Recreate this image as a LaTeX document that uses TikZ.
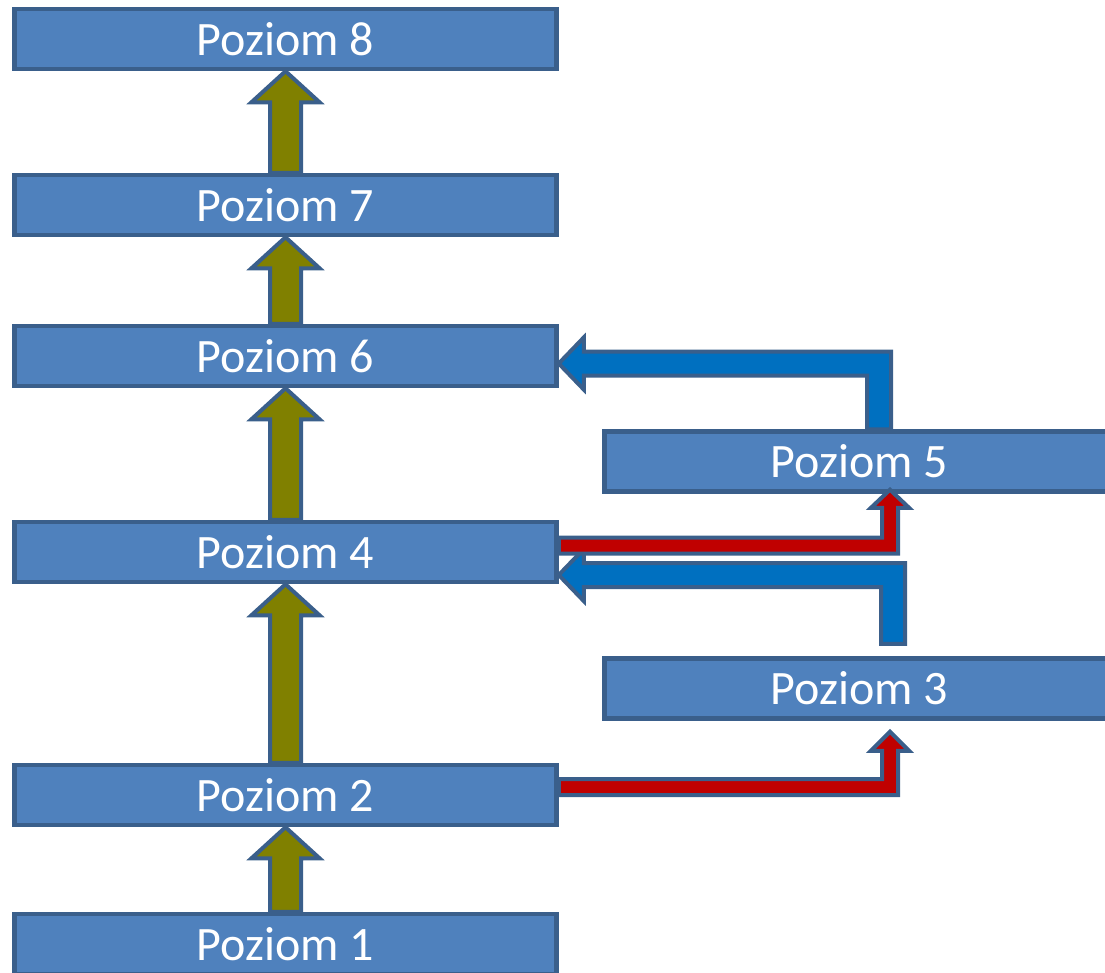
\documentclass[tikz,border=0pt]{standalone}
\usepackage{fontspec}
\setmainfont{Carlito}
\usetikzlibrary{calc}
\definecolor{boxblue}{HTML}{4F81BD}
\definecolor{edgeblue}{HTML}{3A5F8B}
\definecolor{liftolive}{HTML}{808000}
\definecolor{backblue}{HTML}{0070C0}
\definecolor{pushred}{HTML}{C00000}
\begin{document}
\begin{tikzpicture}
        [
            x              = 1pt,
            y              = -1pt,
            level/.style   = {shape=rectangle, draw=edgeblue, fill=boxblue, line width=4.5pt,
                              minimum width=542pt, minimum height=60pt, inner sep=0pt,
                              text=white, font=\fontsize{48}{52}\selectfont},
            side/.style    = {level, minimum width=510pt},
            lift/.style    = {draw=edgeblue, fill=liftolive, line width=4pt},
            back/.style    = {draw=edgeblue, fill=backblue, line width=4pt},
            push/.style    = {draw=edgeblue, fill=pushred, line width=4pt},
        ]
        \useasboundingbox (0,0) rectangle (1105,972);
        \clip (0,0) rectangle (1105,972);
        \node [level] (p8) at (285.5,39)    {Poziom 8};
        \node [level] (p7) at (285.5,205)   {Poziom 7};
        \node [level] (p6) at (285.5,356)   {Poziom 6};
        \node [level] (p4) at (285.5,552)   {Poziom 4};
        \node [level] (p2) at (285.5,795)   {Poziom 2};
        \node [level] (p1) at (285.5,944)   {Poziom 1};
        \node [side]  (p5) at (859.5,461.5) {Poziom 5};
        \node [side]  (p3) at (859.5,688.5) {Poziom 3};
        % olive arrows up the left column
        \foreach \a/\b in {p1/p2, p2/p4, p4/p6, p6/p7, p7/p8}
            \draw [lift] ($(\a.north)+(-15.5,0)$) -- ($(\b.south)+(-15.5,31)$) -- ($(\b.south)+(-34,31)$)
                -- (\b.south) -- ($(\b.south)+(34,31)$) -- ($(\b.south)+(15.5,31)$) -- ($(\a.north)+(15.5,0)$) -- cycle;
        % blue arrows back to the left
        \coordinate (t6) at ($(p6.east)+(0,7.5)$);
        \draw [back] ($(p5.north)+(7.5,0)$) |- ($(t6)+(25,12)$) -- ($(t6)+(25,26)$) -- (t6)
            -- ($(t6)+(25,-26)$) -- ($(t6)+(25,-12)$) -| ($(p5.north)+(31.5,0)$) -- cycle;
        \coordinate (t4) at ($(p4.east)+(0,23)$);
        \draw [back] ($(p3.north)+(21.5,-12.5)$) |- ($(t4)+(25,12)$) -- ($(t4)+(25,26)$) -- (t4)
            -- ($(t4)+(25,-26)$) -- ($(t4)+(25,-12)$) -| ($(p3.north)+(45.5,-12.5)$) -- cycle;
        % red arrows over to the right
        \coordinate (s4) at ($(p4.east)+(0,-6.5)$);
        \coordinate (t5) at ($(p5.south)+(30.5,-4)$);
        \draw [push] ($(s4)+(0,8)$) -| ($(t5)+(8,18)$) -- ($(t5)+(19,18)$) -- (t5)
            -- ($(t5)+(-19,18)$) -- ($(t5)+(-8,18)$) |- ($(s4)+(0,-8)$) -- cycle;
        \coordinate (s2) at ($(p2.east)+(0,-8)$);
        \coordinate (t3) at ($(p3.south)+(30.5,11)$);
        \draw [push] ($(s2)+(0,8)$) -| ($(t3)+(8,19)$) -- ($(t3)+(19,19)$) -- (t3)
            -- ($(t3)+(-19,19)$) -- ($(t3)+(-8,19)$) |- ($(s2)+(0,-8)$) -- cycle;
    \end{tikzpicture}
\end{document}
